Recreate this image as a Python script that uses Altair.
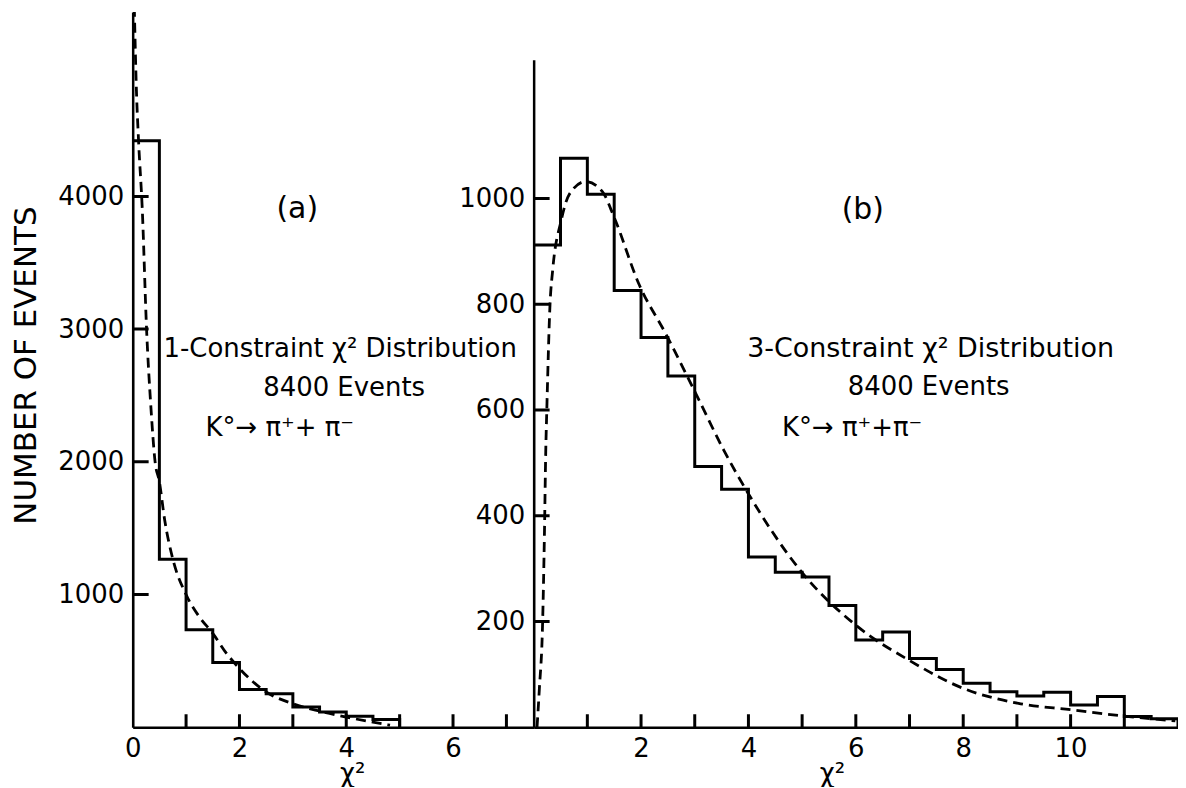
import altair as alt
import pandas as pd

# ---------------- data ----------------
# (a) 1-constraint chi^2 histogram (bin edges, counts)
a_edges = [0, 0.5, 1, 1.5, 2, 2.5, 3, 3.5, 4, 4.5, 5]
a_counts = [4420, 1265, 735, 487, 283, 252, 151, 114, 83, 58]
# (a) dashed theoretical curve
a_curve_x = [0.03, 0.07, 0.11, 0.18, 0.26, 0.34, 0.42, 0.5, 0.6, 0.75, 1.0,
             1.25, 1.5, 1.75, 2.0, 2.5, 3.0, 3.5, 4.0, 4.5, 4.82]
a_curve_y = [5430, 4800, 4420, 3900, 3000, 2420, 2000, 1850, 1560, 1270, 1000,
             830, 707, 560, 442, 265, 177, 121, 76, 38, 15]

# (b) 3-constraint chi^2 histogram
b_edges = [0, 0.5, 1, 1.5, 2, 2.5, 3, 3.5, 4, 4.5, 5, 5.5, 6, 6.5, 7, 7.5, 8,
           8.5, 9, 9.5, 10, 10.5, 11, 11.5, 12]
b_counts = [912, 1076, 1008, 826, 737, 664, 493, 450, 322, 293, 284, 230, 165,
            180, 130, 109, 83, 67, 59, 66, 42, 58, 20, 16]
# (b) dashed theoretical curve
b_curve_x = [0.063, 0.106, 0.167, 0.2, 0.225, 0.245, 0.305, 0.353, 0.51, 0.66,
             0.97, 1.28, 1.5, 1.96, 2.46, 3.02, 3.54, 3.99, 4.97, 6.01, 7.0,
             8.01, 9.03, 10.0, 10.98, 11.95]
b_curve_y = [0, 72, 198, 361, 520, 600, 800, 863, 957, 1007, 1032, 1013, 964,
             838, 744, 631, 524, 443, 296, 192, 126, 73, 45, 33, 21, 12]

# ticks and tick labels
a_xticks = [1, 2, 3, 4, 5, 6, 7]
a_xlabels = [0, 2, 4, 6]
a_yticks = [1000, 2000, 3000, 4000]
b_xticks = [1, 2, 3, 4, 5, 6, 7, 8, 9, 10, 11]
b_xlabels = [2, 4, 6, 8, 10]
b_yticks = [200, 400, 600, 800, 1000]

a_notes = ["(a)", "1-Constraint \u03c7\u00b2 Distribution", "8400  Events",
           "K\u00b0\u2192 \u03c0\u207a+ \u03c0\u207b"]
b_notes = ["(b)", "3-Constraint \u03c7\u00b2 Distribution", "8400  Events",
           "K\u00b0\u2192 \u03c0\u207a+\u03c0\u207b"]

# ---------------- styling ----------------
FONT = "DejaVu Sans"
LBL = 26
A_W, A_H = 402, 717
B_W, B_H = 646, 669
XTICK_PX, YTICK_PX = 13, 16   # inward tick lengths in pixels


def outline_and_ticks(edges, counts, xticks, yticks, xmax, ymax, w, h):
    """Histogram outline (path k=0) plus inward tick segments (k>=1)."""
    rows = [{"x": edges[0], "y": 0}]
    for i, c in enumerate(counts):
        rows += [{"x": edges[i], "y": c}, {"x": edges[i + 1], "y": c}]
    rows.append({"x": edges[-1], "y": 0})
    for n, r in enumerate(rows):
        r.update(k=0, i=n)
    ylen = ymax * XTICK_PX / h
    xlen = xmax * YTICK_PX / w
    k = 1
    for t in xticks:
        rows += [{"x": t, "y": 0, "k": k, "i": 0},
                 {"x": t, "y": ylen, "k": k, "i": 1}]
        k += 1
    for t in yticks:
        rows += [{"x": 0, "y": t, "k": k, "i": 0},
                 {"x": xlen, "y": t, "k": k, "i": 1}]
        k += 1
    return pd.DataFrame(rows)


def note(text, x, y, align="center", size=26):
    return alt.Chart(pd.DataFrame({"t": [text]})).mark_text(
        font=FONT, fontSize=size, align=align, baseline="middle", color="black"
    ).encode(text="t:N", x=alt.value(x), y=alt.value(y))


def panel(edges, counts, cx, cy, xmax, ymax, w, h, xticks, xlabels, yticks,
          xtitle_x, ytitle, notes_layers):
    xs = alt.Scale(domain=[0, xmax], nice=False, zero=False)
    ys = alt.Scale(domain=[0, ymax], nice=False)
    xaxis = alt.Axis(values=xlabels, format="d", ticks=False, tickSize=0,
                     grid=False, labelFont=FONT, labelFontSize=LBL,
                     labelColor="black", labelPadding=8, domainColor="black",
                     domainWidth=2.5, title="\u03c7\u00b2", titleFont=FONT,
                     titleFontSize=26, titleFontWeight="normal",
                     titleColor="black", titleX=xtitle_x, titleY=54,
                     titleAlign="center", titleBaseline="alphabetic",
                     labelFlush=False)
    yargs = dict(values=yticks, format="d", ticks=False, tickSize=0,
                 grid=False, labelFont=FONT, labelFontSize=LBL,
                 labelColor="black", labelPadding=9, domainColor="black",
                 domainWidth=2.5, labelFlush=False)
    if ytitle:
        yargs.update(title="NUMBER OF EVENTS", titleFont=FONT,
                     titleFontSize=31, titleFontWeight="normal",
                     titleColor="black", titleAngle=270, titleX=-106,
                     titleY=354, titleAlign="center", titleBaseline="middle")
    else:
        yargs.update(title=None)
    yaxis = alt.Axis(**yargs)

    hist = alt.Chart(
        outline_and_ticks(edges, counts, xticks, yticks, xmax, ymax, w, h)
    ).mark_line(color="black", strokeWidth=3, clip=True).encode(
        x=alt.X("x:Q", scale=xs, axis=xaxis),
        y=alt.Y("y:Q", scale=ys, axis=yaxis),
        detail="k:N",
        order="i:Q",
    )
    curve = alt.Chart(pd.DataFrame({"x": cx, "y": cy})).mark_line(
        color="black", strokeWidth=2.8, strokeDash=[10, 6],
        interpolate="monotone", clip=True
    ).encode(
        x=alt.X("x:Q", scale=xs, axis=xaxis),
        y=alt.Y("y:Q", scale=ys, axis=yaxis),
    )
    return alt.layer(hist, curve, *notes_layers).properties(
        width=w, height=h)


left = panel(
    a_edges, a_counts, a_curve_x, a_curve_y, 7.51, 5390, A_W, A_H,
    a_xticks, a_xlabels, a_yticks, 220, True,
    [note(a_notes[0], 165, 198, size=30),
     note(a_notes[1], 208, 338),
     note(a_notes[2], 212, 377),
     note(a_notes[3], 73, 417, align="left")],
)

right = panel(
    b_edges, b_counts, b_curve_x, b_curve_y, 12.0, 1262, B_W, B_H,
    b_xticks, b_xlabels, b_yticks, 299, False,
    [note(b_notes[0], 330, 151, size=30),
     note(b_notes[1], 398, 290, size=27),
     note(b_notes[2], 396, 328),
     note(b_notes[3], 249, 369, align="left")],
)

spacer = alt.Chart(pd.DataFrame({"v": [0]})).mark_point(opacity=0).encode(
    x=alt.value(0), y=alt.value(0)
).properties(width=B_W, height=48)

right_col = alt.vconcat(spacer, right, spacing=0, bounds="flush")

chart = alt.hconcat(left, right_col, spacing=0, bounds="flush").properties(
    padding={"left": 3, "top": 0, "right": 0, "bottom": 0},
    background="white",
).configure_view(stroke=None)

chart.save("out.html", embed_options={"renderer": "svg", "actions": False})
